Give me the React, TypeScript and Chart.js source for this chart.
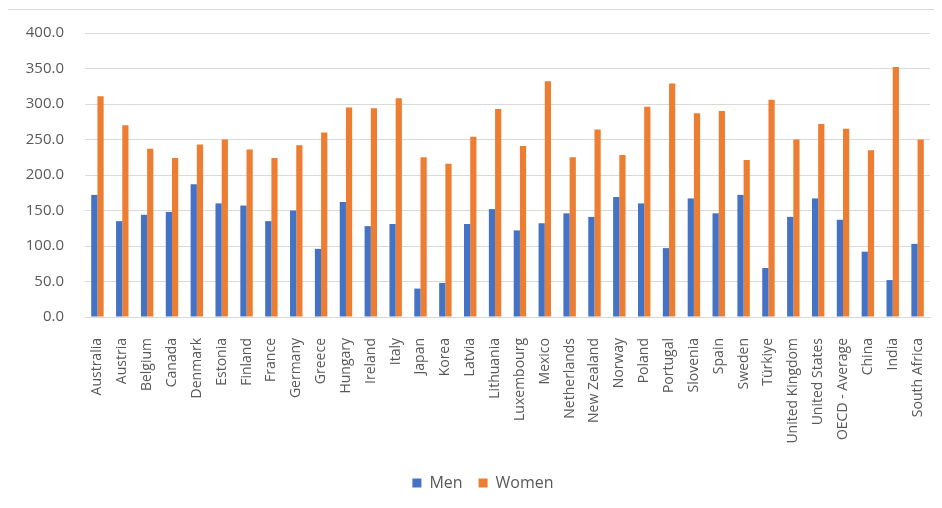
import React, { useEffect, useRef } from "react";
import { Chart, registerables } from "chart.js";

Chart.register(...registerables);

const categories = [
  "Australia", "Austria", "Belgium", "Canada", "Denmark", "Estonia", "Finland", "France",
  "Germany", "Greece", "Hungary", "Ireland", "Italy", "Japan", "Korea", "Latvia",
  "Lithuania", "Luxembourg", "Mexico", "Netherlands", "New Zealand", "Norway", "Poland",
  "Portugal", "Slovenia", "Spain", "Sweden", "Türkiye", "United Kingdom", "United States",
  "OECD - Average", "China", "India", "South Africa",
];

const men = [
  172, 135, 144, 148, 187, 160, 157, 135, 150, 96, 162, 128, 131, 40, 48, 131,
  152, 122, 132, 146, 141, 169, 160, 97, 167, 146, 172, 69, 141, 167, 137, 92, 52, 103,
];

const women = [
  311, 270, 237, 224, 243, 250, 236, 224, 242, 260, 295, 294, 308, 225, 216, 254,
  293, 241, 332, 225, 264, 228, 296, 329, 287, 290, 221, 306, 250, 272, 265, 235, 352, 250,
];

const yTicks = [0, 50, 100, 150, 200, 250, 300, 350, 400];

const FONT = "'Open Sans', sans-serif";
const TEXT = "#595959";

const legendShift = {
  id: "legendShift",
  afterLayout(chart: any) {
    const lg = chart.legend;
    if (lg) {
      lg.left += 14;
      lg.right += 14;
    }
  },
};

export default function App() {
  const ref = useRef<HTMLCanvasElement | null>(null);
  useEffect(() => {
    if (!ref.current) return;
    const chart = new Chart(ref.current, {
      type: "bar",
      data: {
        labels: categories,
        datasets: [
          { label: "Men", data: men, backgroundColor: "#4472C4", categoryPercentage: 0.5, barPercentage: 1 },
          { label: "Women", data: women, backgroundColor: "#ED7D31", categoryPercentage: 0.5, barPercentage: 1 },
        ],
      },
      plugins: [legendShift],
      options: {
        animation: false,
        responsive: false,
        maintainAspectRatio: false,
        layout: { padding: { top: 25, right: 12, left: 0, bottom: 7 } },
        plugins: {
          tooltip: { enabled: false },
          legend: {
            position: "bottom",
            labels: {
              boxWidth: 9,
              boxHeight: 9,
              color: TEXT,
              font: { family: FONT, size: 16 },
              padding: 16,
            },
          },
        },
        scales: {
          x: {
            grid: { display: false },
            border: { color: "#d9d9d9" },
            ticks: {
              color: TEXT,
              font: { family: FONT, size: 14 },
              minRotation: 90,
              maxRotation: 90,
              autoSkip: false,
              padding: 13,
            },
            afterFit: (s: any) => { s.height = 142; s.paddingLeft = 0; s.paddingRight = 0; },
          },
          y: {
            min: 0,
            max: 400,
            afterBuildTicks: (s: any) => { s.ticks = yTicks.map((v) => ({ value: v })); },
            grid: { color: "#d9d9d9", drawTicks: false },
            border: { display: false },
            ticks: {
              color: TEXT,
              font: { family: FONT, size: 15 },
              padding: 21,
              callback: (v: any) => Number(v).toFixed(1),
            },
            afterFit: (s: any) => { s.width = 77; s.paddingTop = 0; s.paddingBottom = 0; },
          },
        },
      },
    });
    return () => chart.destroy();
  }, []);
  return (
    <div style={{ width: 934, height: 500, position: "relative" }}>
      <div style={{ position: "absolute", left: -1, top: 1, width: 940, height: 500, borderLeft: "1px solid #d9d9d9", borderTop: "1px solid #d9d9d9" }} />
      <canvas ref={ref} width={934} height={500} style={{ position: "absolute", left: 0, top: 0 }} />
    </div>
  );
}
